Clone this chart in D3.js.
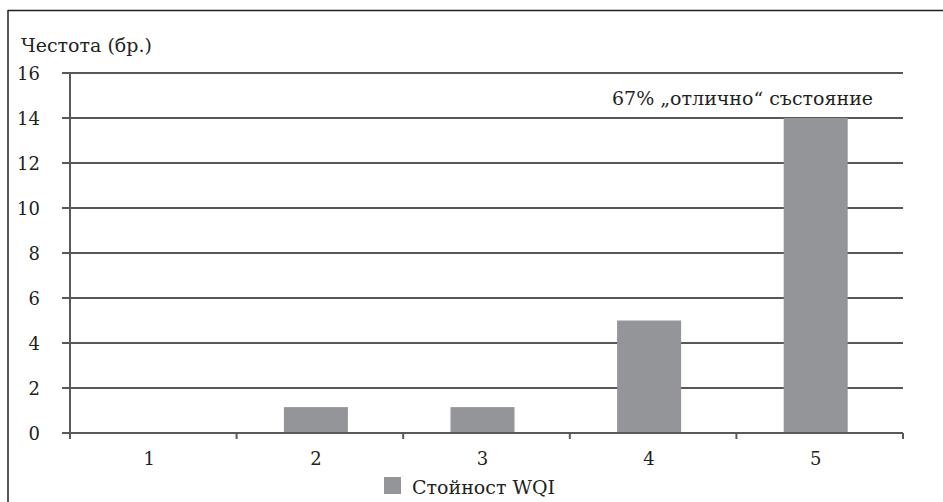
<!DOCTYPE html>
<html><head><meta charset="utf-8">
<script src="https://cdn.jsdelivr.net/npm/d3@7"></script>
<style>
html,body{margin:0;padding:0;background:#fff;}
svg{display:block;}
</style></head>
<body>
<svg id="chart" width="943" height="502"></svg>
<script>
const categories = ["1","2","3","4","5"];
const values = [0, 1.15, 1.15, 5, 14];
const yTicks = [0,2,4,6,8,10,12,14,16];
const yTitle = "Честота (бр.)";
const annotation = "67% „отлично“ състояние";
const seriesName = "Стойност WQI";

const FONT = "'DejaVu Serif', serif";
const svg = d3.select("#chart").attr("font-family", FONT);
const m = {left:70, right:903, top:73, bottom:433};

svg.append("line").attr("x1",8).attr("x2",8).attr("y1",10).attr("y2",502)
  .attr("stroke","#231f20").attr("stroke-width",1.5);
svg.append("line").attr("x1",8).attr("x2",943).attr("y1",10.5).attr("y2",10.5)
  .attr("stroke","#231f20").attr("stroke-width",1.5);

const x = d3.scaleBand().domain(categories).range([m.left,m.right]).paddingInner(0).paddingOuter(0);
const y = d3.scaleLinear().domain([0,16]).range([m.bottom,m.top]);
const barW = 64;
const barShift = -4;

svg.append("g").selectAll("line").data(yTicks).join("line")
  .attr("x1",62).attr("x2",m.right)
  .attr("y1",d=>y(d)).attr("y2",d=>y(d))
  .attr("stroke","#231f20").attr("stroke-width",1.3);

svg.append("g").selectAll("rect").data(values).join("rect")
  .attr("x",(d,i)=>x(categories[i])+x.bandwidth()/2-barW/2+barShift)
  .attr("width",barW)
  .attr("y",d=>y(d))
  .attr("height",d=>y(0)-y(d))
  .attr("fill","#939598");

svg.append("line").attr("x1",m.left).attr("x2",m.left).attr("y1",m.top).attr("y2",m.bottom+6)
  .attr("stroke","#58595b").attr("stroke-width",2);
svg.append("line").attr("x1",62).attr("x2",m.right).attr("y1",m.bottom).attr("y2",m.bottom)
  .attr("stroke","#58595b").attr("stroke-width",2);
const bounds = categories.map(c=>x(c)).concat([m.right]);
svg.append("g").selectAll("line").data(bounds).join("line")
  .attr("x1",d=>d).attr("x2",d=>d).attr("y1",m.bottom).attr("y2",m.bottom+6)
  .attr("stroke","#58595b").attr("stroke-width",2);

const T = sel => sel.attr("font-family", FONT).attr("fill","#231f20");

T(svg.append("g").selectAll("text").data(yTicks).join("text"))
  .attr("x",40).attr("y",d=>y(d)+6.5).attr("text-anchor","end")
  .attr("font-size",18).text(d=>d);

T(svg.append("g").selectAll("text").data(categories).join("text"))
  .attr("x",d=>x(d)+x.bandwidth()/2+barShift).attr("y",465).attr("text-anchor","middle")
  .attr("font-size",18).text(d=>d);

T(svg.append("text")).attr("x",21).attr("y",52).attr("font-size",19).text(yTitle);
T(svg.append("text")).attr("x",612).attr("y",105).attr("font-size",19).text(annotation);

svg.append("rect").attr("x",384).attr("y",477).attr("width",17).attr("height",17).attr("fill","#939598");
T(svg.append("text")).attr("x",412).attr("y",494).attr("font-size",19).text(seriesName);
</script>
</body></html>
